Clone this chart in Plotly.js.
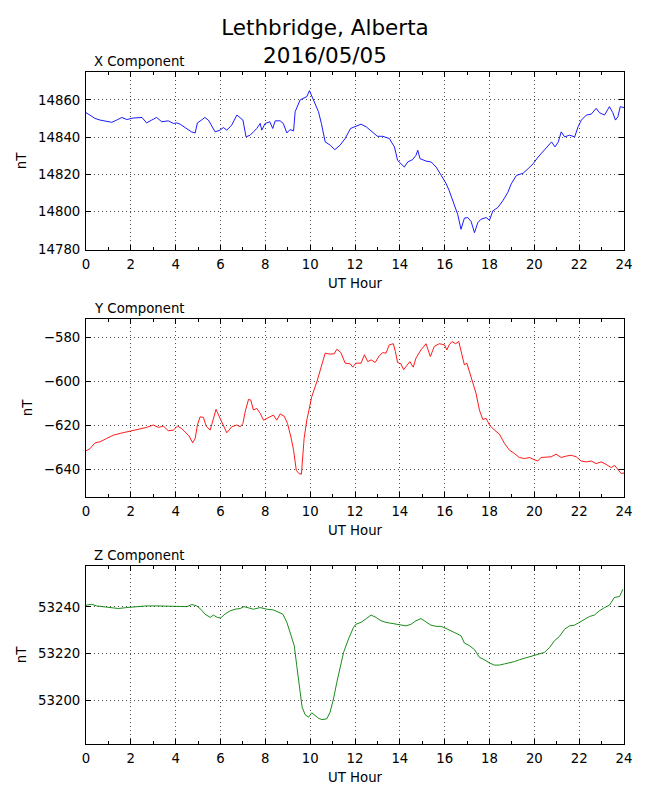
<!DOCTYPE html>
<html>
<head>
<meta charset="utf-8">
<script src="https://cdn.plot.ly/plotly-3.0.1.min.js"></script>
<style>
  body { margin: 0; background: #fff; }
  #chart { width: 650px; height: 800px; }
</style>
</head>
<body>
<div id="chart"></div>
<script>
// readings, hour -> nT
const xHours = [0, 0.18, 0.4, 0.63, 0.92, 1.15, 1.37, 1.6, 1.82, 2.1, 2.5, 2.7, 2.93, 3.15, 3.38, 3.67, 3.9, 4.05, 4.2, 4.5, 4.7, 4.87, 4.97, 5.15, 5.3, 5.46, 5.6, 5.76, 5.98, 6.13, 6.28, 6.5, 6.73, 6.88, 7.0, 7.14, 7.32, 7.47, 7.62, 7.77, 7.84, 7.99, 8.2, 8.33, 8.44, 8.66, 8.8, 8.96, 9.1, 9.26, 9.33, 9.55, 9.73, 9.85, 9.97, 10.15, 10.37, 10.5, 10.67, 10.9, 11.1, 11.33, 11.56, 11.8, 12.0, 12.27, 12.5, 12.7, 13.0, 13.24, 13.53, 13.76, 13.9, 14.05, 14.2, 14.35, 14.57, 14.72, 14.8, 14.9, 15.17, 15.4, 15.62, 15.85, 16.07, 16.2, 16.35, 16.58, 16.73, 16.88, 17.03, 17.18, 17.33, 17.48, 17.62, 17.85, 18.0, 18.15, 18.37, 18.6, 18.82, 18.97, 19.2, 19.5, 19.72, 19.95, 20.17, 20.4, 20.62, 20.77, 20.92, 21.07, 21.2, 21.35, 21.57, 21.8, 21.95, 22.1, 22.32, 22.54, 22.76, 22.9, 23.13, 23.35, 23.5, 23.62, 23.73, 23.83, 24.0];
const xComp = [14853.2, 14851.9, 14850.1, 14849.2, 14848.6, 14848, 14849.2, 14850.6, 14849.5, 14850.3, 14850.6, 14847.7, 14849.2, 14850.6, 14848.3, 14848.8, 14847.4, 14847.7, 14847, 14844.7, 14842.9, 14842.3, 14847.7, 14849.2, 14850.6, 14849.2, 14846.5, 14842.9, 14843.8, 14845.2, 14843.8, 14846.5, 14851.9, 14850.1, 14849.2, 14840.2, 14841.1, 14842.9, 14844.7, 14847.4, 14843.8, 14847.4, 14848.3, 14844.7, 14848.8, 14848.8, 14847.4, 14842.3, 14844.1, 14843.4, 14853.7, 14860, 14860.9, 14861.8, 14865, 14860, 14853.7, 14847.4, 14837.5, 14835.7, 14833.3, 14835.7, 14839.3, 14844.7, 14845.6, 14847, 14845.6, 14843.4, 14840.5, 14840.5, 14839.3, 14834.8, 14827.6, 14825.8, 14824, 14826.7, 14828, 14830.3, 14833, 14828.5, 14827.2, 14826.7, 14824, 14819.5, 14815, 14811.4, 14806, 14798.7, 14790.6, 14796.6, 14796.9, 14794.8, 14788.8, 14794.2, 14796, 14796.9, 14795.5, 14800.5, 14802.3, 14806, 14810.5, 14815, 14819.5, 14820.7, 14823.1, 14825.8, 14829.4, 14832.6, 14835.1, 14837.5, 14834.8, 14837.5, 14842.9, 14840.2, 14841.1, 14840.2, 14845.6, 14849.2, 14851.9, 14852.4, 14855.5, 14853.2, 14851.9, 14856.4, 14853.2, 14849.2, 14851, 14856.4, 14855.9];

const yHours = [0, 0.18, 0.4, 0.63, 0.92, 1.22, 1.52, 1.82, 2.1, 2.4, 2.7, 3.0, 3.23, 3.45, 3.67, 3.9, 4.08, 4.27, 4.46, 4.6, 4.76, 4.87, 4.97, 5.09, 5.24, 5.36, 5.54, 5.68, 5.8, 5.95, 6.13, 6.28, 6.5, 6.73, 6.88, 7.0, 7.1, 7.25, 7.35, 7.47, 7.62, 7.77, 7.92, 8.14, 8.36, 8.51, 8.66, 8.84, 8.99, 9.14, 9.26, 9.38, 9.5, 9.61, 9.73, 9.85, 10.07, 10.3, 10.48, 10.67, 10.89, 11.07, 11.19, 11.37, 11.56, 11.79, 11.9, 12.04, 12.27, 12.42, 12.57, 12.72, 12.9, 13.08, 13.24, 13.38, 13.53, 13.71, 13.8, 13.9, 14.05, 14.17, 14.3, 14.45, 14.6, 14.72, 14.94, 15.17, 15.36, 15.54, 15.76, 15.99, 16.1, 16.2, 16.33, 16.48, 16.63, 16.73, 16.88, 16.99, 17.1, 17.25, 17.4, 17.55, 17.7, 17.85, 18.0, 18.22, 18.44, 18.67, 18.89, 19.11, 19.33, 19.56, 19.78, 20.0, 20.15, 20.3, 20.53, 20.75, 20.97, 21.2, 21.42, 21.64, 21.87, 22.09, 22.31, 22.54, 22.76, 22.98, 23.2, 23.43, 23.58, 23.73, 23.88, 24.0];
const yComp = [-631.5, -630.5, -627.9, -627.4, -625.9, -624.4, -623.6, -622.9, -622.4, -621.8, -620.9, -619.8, -620.9, -620.3, -622.4, -622.1, -620.3, -621.4, -623.6, -624.8, -627.9, -625.9, -619.8, -616.1, -616.4, -620.3, -622.1, -617.3, -612.7, -616.1, -619.8, -623.3, -620.6, -619.8, -620.6, -619.1, -613.8, -608.2, -608.5, -613, -612.3, -614.5, -617.6, -616.4, -615.3, -617.6, -614.8, -615.8, -619.1, -625.2, -631.2, -640.3, -641.8, -642.1, -625.9, -617.6, -607, -600.2, -594.1, -587.3, -587.7, -587.6, -585.5, -587, -591.8, -592.1, -593.6, -591.8, -591.8, -588, -591.1, -590.3, -591.5, -588.5, -587, -587.3, -583.5, -583, -586.5, -591.5, -592.1, -594.8, -593, -591.1, -593.6, -589.5, -585.8, -583, -588.8, -584.2, -583, -583.5, -585.8, -583.5, -582, -583, -582, -585.8, -592.6, -591.8, -595.6, -600.2, -605.5, -613, -617.3, -616.8, -619.8, -622.1, -623.9, -628.2, -631.2, -632.7, -634.5, -635, -634.5, -635.5, -636.1, -634.5, -634.5, -634.2, -633, -634.5, -633.9, -633.5, -634.2, -636.1, -636.5, -636.1, -637.3, -636.5, -637.6, -639.1, -638.1, -640, -641.8, -641.5];

const zHours = [0, 0.25, 0.48, 0.77, 1.07, 1.44, 1.82, 2.26, 2.7, 3.15, 3.6, 4.05, 4.5, 4.72, 4.94, 5.12, 5.31, 5.54, 5.68, 5.86, 6.01, 6.2, 6.43, 6.65, 6.88, 7.05, 7.25, 7.47, 7.77, 8.07, 8.36, 8.59, 8.78, 8.96, 9.14, 9.29, 9.4, 9.52, 9.64, 9.78, 9.93, 10.07, 10.22, 10.37, 10.52, 10.74, 10.89, 11.04, 11.19, 11.34, 11.49, 11.71, 11.93, 12.04, 12.27, 12.5, 12.72, 12.94, 13.16, 13.38, 13.6, 13.83, 14.05, 14.28, 14.5, 14.72, 14.94, 15.17, 15.39, 15.62, 15.84, 16.06, 16.29, 16.51, 16.73, 16.88, 17.1, 17.33, 17.55, 17.77, 18.0, 18.22, 18.44, 18.67, 18.89, 19.11, 19.34, 19.56, 19.78, 20.0, 20.23, 20.45, 20.68, 20.9, 21.12, 21.35, 21.57, 21.79, 22.01, 22.24, 22.46, 22.68, 22.9, 23.13, 23.35, 23.57, 23.8, 23.95];
const zComp = [53240.7, 53241.1, 53240.4, 53240, 53239.7, 53239.3, 53239.7, 53240.1, 53240.4, 53240.4, 53240.4, 53240.1, 53240.1, 53241, 53240.4, 53239, 53236.9, 53235.5, 53236.5, 53235.5, 53235.3, 53236.9, 53238.3, 53239, 53239.3, 53240.1, 53239.7, 53239, 53239.7, 53239, 53238.7, 53237.9, 53236.9, 53233.4, 53228.4, 53223.5, 53215, 53205.1, 53197.3, 53194, 53193, 53194.9, 53193.8, 53192.6, 53192, 53192.3, 53195.2, 53200.8, 53207.9, 53215, 53220.6, 53226.3, 53231.2, 53232.6, 53233.4, 53235, 53236.5, 53235.5, 53234.1, 53233.4, 53233.1, 53232.6, 53232.2, 53231.9, 53232.6, 53234.1, 53235, 53233.6, 53232.2, 53231.7, 53231.7, 53230.8, 53229.8, 53228.8, 53227.7, 53224.6, 53223.5, 53221.8, 53218.5, 53217.5, 53216.1, 53215.2, 53215.2, 53215.7, 53216.1, 53216.7, 53217.5, 53218.1, 53218.5, 53219.2, 53219.9, 53220.6, 53222.7, 53225.6, 53227.4, 53230.5, 53231.9, 53232.2, 53233.4, 53234.5, 53235.9, 53236.5, 53238.3, 53239.7, 53240.7, 53244, 53244.4, 53247.5];

const panelTitles = ['X Component', 'Y Component', 'Z Component'];
const yTicks = [
  [14780, 14800, 14820, 14840, 14860],
  [-640, -620, -600, -580],
  [53200, 53220, 53240]
];
const yRanges = [[14779.5, 14875], [-652.4, -571.8], [53181.6, 53257.4]];

const font = 'DejaVu Sans, sans-serif';
const W = 650, H = 800;
const plotLeft = 86, plotRight = 624;
const panelTops = [72, 319, 566];
const panelH = 178;

function xAxis(anchor) {
  return {
    anchor: anchor,
    domain: [plotLeft / W, plotRight / W],
    range: [0, 24],
    tickvals: [0, 2, 4, 6, 8, 10, 12, 14, 16, 18, 20, 22, 24],
    ticks: 'inside', ticklen: 5, tickcolor: '#000',
    minor: { dtick: 1, ticks: 'inside', ticklen: 3, tickcolor: '#000', showgrid: false },
    mirror: 'ticks', showline: true, linecolor: '#000', linewidth: 1,
    showgrid: true, gridcolor: '#000', gridwidth: 0.7, griddash: '1px,3px',
    zeroline: false,
    tickfont: { family: font, size: 13.3, color: '#000' },
    ticklabelstandoff: 2,
    title: { text: 'UT Hour', font: { family: font, size: 13.3, color: '#000' }, standoff: 7 }
  };
}

function yAxis(i, anchor) {
  const top = panelTops[i];
  return {
    anchor: anchor,
    domain: [1 - (top + panelH) / H, 1 - top / H],
    range: yRanges[i],
    tickvals: yTicks[i],
    tickformat: 'd',
    ticks: 'inside', ticklen: 5, tickcolor: '#000',
    mirror: 'ticks', showline: true, linecolor: '#000', linewidth: 1,
    showgrid: true, gridcolor: '#000', gridwidth: 0.7, griddash: '1px,3px',
    zeroline: false,
    tickfont: { family: font, size: 13.3, color: '#000' },
    ticklabelstandoff: 2,
    title: { text: 'nT', font: { family: font, size: 13.3, color: '#000' }, standoff: 8 }
  };
}

const series = [[xHours, xComp, '#0000ff'], [yHours, yComp, '#ff0000'], [zHours, zComp, '#008000']];
const data = series.map((s, i) => ({
  x: s[0], y: s[1],
  xaxis: i ? 'x' + (i + 1) : 'x',
  yaxis: i ? 'y' + (i + 1) : 'y',
  type: 'scatter', mode: 'lines',
  line: { color: s[2], width: 0.9 },
  hoverinfo: 'skip'
}));

let layout = {
  width: W, height: H,
  margin: { l: 0, r: 0, t: 0, b: 0 },
  paper_bgcolor: '#fff', plot_bgcolor: '#fff',
  showlegend: false,
  title: {
    text: 'Lethbridge, Alberta<br>2016/05/05',
    x: 0.5, xanchor: 'center', y: 1 - 35 / H, yanchor: 'middle',
    font: { family: font, size: 21.5, color: '#000' }
  },
  annotations: panelTitles.map((t, i) => ({
    text: t, xref: 'paper', yref: 'paper',
    x: (plotLeft + 6) / W, y: 1 - (panelTops[i] - 1) / H,
    xanchor: 'left', yanchor: 'bottom', showarrow: false,
    font: { family: font, size: 13.3, color: '#000' }
  }))
};
for (let i = 0; i < 3; i++) {
  const sx = i ? String(i + 1) : '';
  layout['xaxis' + sx] = xAxis('y' + sx);
  layout['yaxis' + sx] = yAxis(i, 'x' + sx);
}

Plotly.newPlot('chart', data, layout, { displayModeBar: false, staticPlot: true });
</script>
</body>
</html>
